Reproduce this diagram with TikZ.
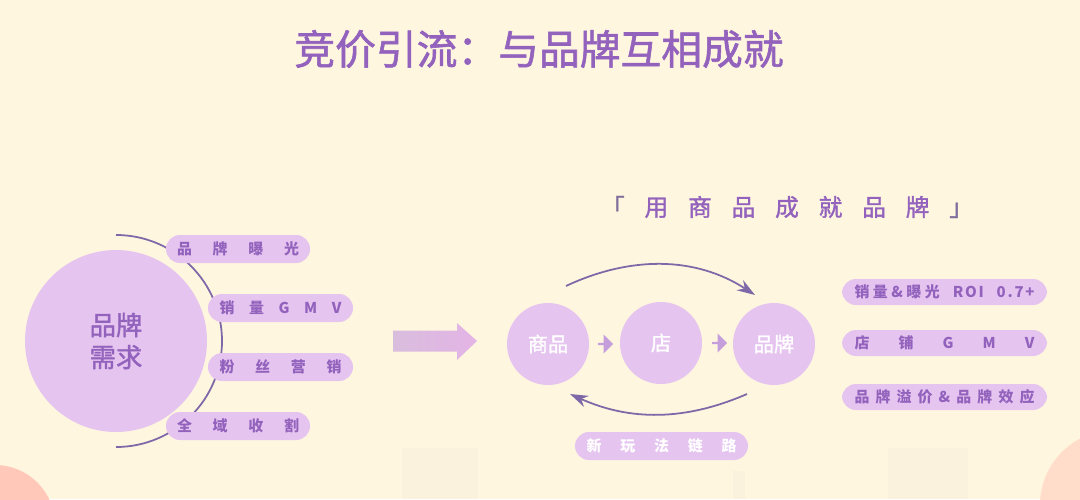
\documentclass[tikz,border=0pt]{standalone}
\usepackage{fontspec}
\setmainfont{Noto Sans CJK SC}
\newfontfamily\midfont[FakeBold=1.4]{Noto Sans CJK SC}
\usetikzlibrary{arrows.meta,shapes.arrows}

\definecolor{paper}{HTML}{FFF6E0}
\definecolor{lilac}{HTML}{E5C4F0}
\definecolor{plum}{HTML}{9262BC}
\definecolor{dusk}{HTML}{7E68A8}
\definecolor{peach}{HTML}{FFC8B8}
\definecolor{arrowfrom}{HTML}{D9BDDD}
\definecolor{arrowto}{HTML}{E3B4E6}

\tikzset{
  bigdot/.style={circle, fill=lilac, inner sep=0pt, minimum size=3.64cm},
  dot/.style={circle, fill=lilac, inner sep=0pt, minimum size=1.64cm, text=white, font=\fontsize{11.5}{12}\selectfont\midfont},
  pill/.style={rounded corners=0.28cm, fill=lilac, inner sep=0pt, text=plum, minimum height=0.56cm, font=\fontsize{8.5}{10}\selectfont\bfseries},
  smallarrow/.style={single arrow, fill=lilac!62!plum, inner sep=0pt, minimum width=0.38cm, minimum height=0.3cm, single arrow head extend=0.05cm, single arrow head indent=0cm},
  loopline/.style={dusk, line width=1pt, -{Stealth[length=0.36cm, width=0.24cm]}}
}

\newcommand{\spreadtext}[2]{\makebox[#1][s]{#2}}

\begin{document}
\begin{tikzpicture}

\useasboundingbox (0,0) rectangle (21.6, 9.98);
\fill[paper] (0,0) rectangle (21.6, 9.98);

% corners and faint blocks
\begin{scope}
\clip (0,0) rectangle (21.6, 9.98);
\fill[peach] (-0.1, -0.52) circle (1.2);
\fill[peach!55!paper] (22.3, -0.12) circle (1.5);
\end{scope}
\fill[black!1.5!paper] (8.04, 0) rectangle (9.56, 1.02);
\fill[black!1.5!paper] (14.66, 0) rectangle (14.9, 0.56);
\fill[black!1.5!paper] (17.76, 0) rectangle (19.36, 1.02);

% title
\node (title) at (10.78, 9.0) [text=plum, font=\fontsize{23.2}{26}\selectfont\midfont] {竞价引流：与品牌互相成就};

% left part
\node (need) at (2.32, 3.16) [bigdot, text=plum, align=center, font=\fontsize{15}{18.2}\selectfont\midfont] {品牌\\需求};
\draw[dusk, line width=1pt] (2.32, 5.28) arc (90:-90:2.12);

\node (p1) at (4.76, 5.00) [pill, minimum width=2.88cm] {\spreadtext{2.44cm}{品\hfil 牌\hfil 曝\hfil 光}};
\node (p2) at (5.61, 3.82) [pill, minimum width=2.9cm] {\spreadtext{2.44cm}{销\hfil 量\hfil G\hfil M\hfil V}};
\node (p3) at (5.61, 2.64) [pill, minimum width=2.9cm] {\spreadtext{2.44cm}{粉\hfil 丝\hfil 营\hfil 销}};
\node (p4) at (4.76, 1.46) [pill, minimum width=2.88cm] {\spreadtext{2.44cm}{全\hfil 域\hfil 收\hfil 割}};

% big arrow
\shade[left color=arrowfrom, right color=arrowto]
  (7.86, 2.95) -- (9.14, 2.95) -- (9.14, 2.78) -- (9.54, 3.16) -- (9.14, 3.52) -- (9.14, 3.37) -- (7.86, 3.37) -- cycle;

% right part
\node (head) at (15.74, 5.84) [text=plum, font=\fontsize{13.5}{15}\selectfont\midfont] {\spreadtext{7.44cm}{\textcolor{dusk!70!gray}{「}\hfil 用\hfil 商\hfil 品\hfil 成\hfil 就\hfil 品\hfil 牌\hfil \textcolor{dusk!70!gray}{」}}};

\node (goods) at (10.96, 3.10) [dot] {商品};
\node (shop) at (13.22, 3.12) [dot] {店};
\node (brand) at (15.48, 3.10) [dot] {品牌};

\node (a1) at (12.10, 3.10) [smallarrow] {};
\node (a2) at (14.38, 3.12) [smallarrow] {};

\coordinate (topfrom) at (11.32, 4.26);
\coordinate (topto) at (15.10, 4.08);
\coordinate (botfrom) at (14.94, 2.10);
\coordinate (botto) at (11.40, 2.10);
\draw[loopline] (topfrom) .. controls (12.6, 4.86) and (13.9, 4.86) .. (topto);
\draw[loopline] (botfrom) .. controls (13.7, 1.56) and (12.6, 1.56) .. (botto);

\node (trick) at (13.23, 1.06) [pill, minimum width=3.46cm, text=white] {\spreadtext{3.0cm}{新\hfil 玩\hfil 法\hfil 链\hfil 路}};

\node (r1) at (18.89, 4.14) [pill, minimum width=4.1cm, minimum height=0.52cm] {\spreadtext{3.6cm}{销\kern2pt 量\kern2pt\&\kern2pt 曝\kern2pt 光\hfil R\kern1pt O\kern1pt I\hfil 0\kern1pt .\kern1pt 7\kern1pt +}};
\node (r2) at (18.89, 3.12) [pill, minimum width=4.1cm, minimum height=0.52cm] {\spreadtext{3.6cm}{店\hfil 铺\hfil G\hfil M\hfil V}};
\node (r3) at (18.89, 2.04) [pill, minimum width=4.1cm, minimum height=0.52cm] {\spreadtext{3.6cm}{品\hfil 牌\hfil 溢\hfil 价\hfil \&\hfil 品\hfil 牌\hfil 效\hfil 应}};

\end{tikzpicture}
\end{document}
